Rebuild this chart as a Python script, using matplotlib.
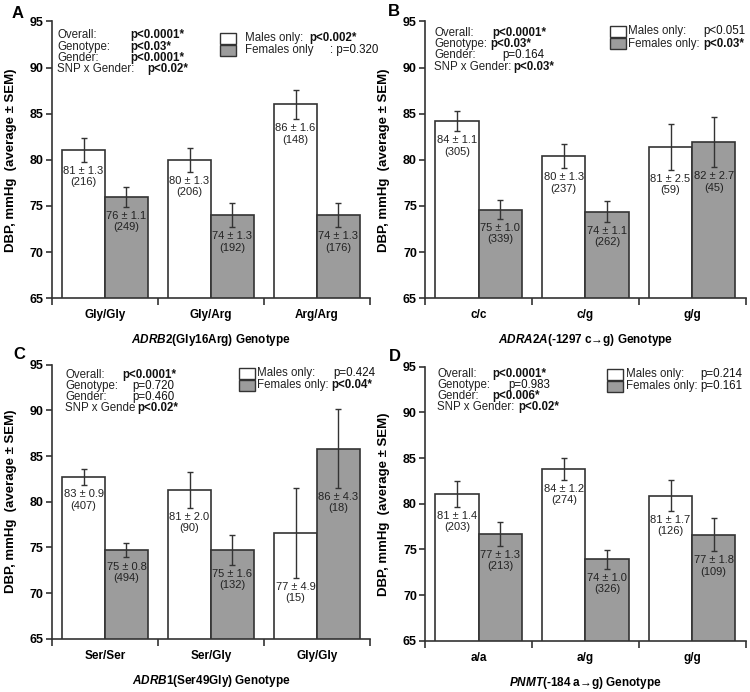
import numpy as np
import matplotlib
matplotlib.use("Agg")
import matplotlib.pyplot as plt
from matplotlib.patches import Rectangle

plt.rcParams['font.family'] = ['Liberation Sans', 'DejaVu Sans']
plt.rcParams['mathtext.fontset'] = 'custom'
plt.rcParams['mathtext.it'] = 'Liberation Sans:bold:italic'
plt.rcParams['mathtext.rm'] = 'Liberation Sans:bold'

# ---- data ----
genotypes_A = ["Gly/Gly", "Gly/Arg", "Arg/Arg"]
male_A = [81.1, 80.0, 86.0]
male_sem_A = [1.3, 1.3, 1.6]
male_n_A = [216, 206, 148]
female_A = [76.0, 74.0, 74.0]
female_sem_A = [1.1, 1.3, 1.3]
female_n_A = [249, 192, 176]

genotypes_B = ["c/c", "c/g", "g/g"]
male_B = [84.2, 80.4, 81.4]
male_sem_B = [1.1, 1.3, 2.5]
male_n_B = [305, 237, 59]
female_B = [74.6, 74.4, 81.9]
female_sem_B = [1.0, 1.1, 2.7]
female_n_B = [339, 262, 45]

genotypes_C = ["Ser/Ser", "Ser/Gly", "Gly/Gly"]
male_C = [82.7, 81.3, 76.6]
male_sem_C = [0.9, 2.0, 4.9]
male_n_C = [407, 90, 15]
female_C = [74.7, 74.7, 85.8]
female_sem_C = [0.8, 1.6, 4.3]
female_n_C = [494, 132, 18]

genotypes_D = ["a/a", "a/g", "g/g"]
male_D = [81.1, 83.8, 80.9]
male_sem_D = [1.4, 1.2, 1.7]
male_n_D = [203, 274, 126]
female_D = [76.7, 73.9, 76.6]
female_sem_D = [1.3, 1.0, 1.8]
female_n_D = [213, 326, 109]

genes = ["ADRB2", "ADRA2A", "ADRB1", "PNMT"]
variants = ["(Gly16Arg) Genotype", "(-1297 c\u2192g) Genotype",
            "(Ser49Gly) Genotype", "(-184 a\u2192g) Genotype"]

# stats text: (label, value, bold)
stats_A = [("Overall:", "p<0.0001*", True), ("Genotype:", "p<0.03*", True),
           ("Gender:", "p<0.0001*", True), ("SNP x Gender:", "p<0.02*", True)]
stats_B = [("Overall:", "p<0.0001*", True), ("Genotype:", "p<0.03*", True),
           ("Gender:", "p=0.164", False), ("SNP x Gender:", "p<0.03*", True)]
stats_C = [("Overall:", "p<0.0001*", True), ("Genotype:", "p=0.720", False),
           ("Gender:", "p=0.460", False), ("SNP x Gende", "p<0.02*", True)]
stats_D = [("Overall:", "p<0.0001*", True), ("Genotype:", "p=0.983", False),
           ("Gender:", "p<0.006*", True), ("SNP x Gender:", "p<0.02*", True)]
legend_A = [("Males only:", "p<0.002*", True), ("Females only", ": p=0.320", False)]
legend_B = [("Males only:", "p<0.051", False), ("Females only:", "p<0.03*", True)]
legend_C = [("Males only:", "p=0.424", False), ("Females only:", "p<0.04*", True)]
legend_D = [("Males only:", "p=0.214", False), ("Females only:", "p=0.161", False)]

EDGE = "#333333"
GREY = "#9c9c9c"
TXT = "#222222"
FS = 8.3

fig = plt.figure(figsize=(7.5, 6.92), dpi=100)


def panel(rect, letter, letter_pos, genos, m, ms, mn, f, fs, fn, gene, variant,
          stats, stat_x, stat_vx, stat_y0, leg, leg_x, leg_tx, leg_vx, leg_y0):
    ax = fig.add_axes(rect)
    x = np.arange(len(genos))
    w = 0.405
    ax.bar(x - w / 2, m, w, color="white", edgecolor=EDGE, linewidth=1.2, zorder=2)
    ax.bar(x + w / 2, f, w, color=GREY, edgecolor=EDGE, linewidth=1.2, zorder=2)
    ax.errorbar(x - w / 2, m, yerr=ms, fmt="none", ecolor=EDGE, elinewidth=1, capsize=2.5, zorder=3)
    ax.errorbar(x + w / 2, f, yerr=fs, fmt="none", ecolor=EDGE, elinewidth=1, capsize=2.5, zorder=3)
    for xi, v, s, n in zip(x - w / 2, m, ms, mn):
        ax.text(xi, v - s - 0.45, "%.0f \u00b1 %.1f\n(%d)" % (v, s, n), ha="center", va="top",
                fontsize=8, color=TXT, linespacing=1.15, zorder=4)
    for xi, v, s, n in zip(x + w / 2, f, fs, fn):
        ax.text(xi, v - s - 0.45, "%.0f \u00b1 %.1f\n(%d)" % (v, s, n), ha="center", va="top",
                fontsize=8, color=TXT, linespacing=1.15, zorder=4)

    ax.set_ylim(65, 95)
    ax.set_xlim(-0.5, len(genos) - 0.5)
    ax.set_yticks([65, 70, 75, 80, 85, 90, 95])
    ax.set_xticks(np.arange(len(genos) + 1) - 0.5)
    ax.set_xticklabels([])
    ax.set_xticks(x, minor=True)
    ax.set_xticklabels(genos, minor=True, fontweight="bold", fontsize=8.5)
    ax.tick_params(axis="x", which="minor", length=0, pad=8)
    ax.tick_params(axis="x", which="major", length=5, width=1.2, color=EDGE)
    ax.tick_params(axis="y", length=4, width=1.2, color=EDGE, pad=2)
    for lab in ax.get_yticklabels():
        lab.set_fontweight("bold")
        lab.set_fontsize(9)
    for sp in ["top", "right"]:
        ax.spines[sp].set_visible(False)
    for sp in ["left", "bottom"]:
        ax.spines[sp].set_linewidth(1.2)
        ax.spines[sp].set_color(EDGE)
    ax.set_ylabel("DBP, mmHg  (average \u00b1 SEM)", fontweight="bold", fontsize=9.5, labelpad=9)
    ax.set_xlabel(r"$\it{%s}$%s" % (gene, variant), fontweight="bold", fontsize=8.5, labelpad=8)

    # stats block
    for i, ((lab, val, bold), vx) in enumerate(zip(stats, stat_vx)):
        yy = stat_y0 - i * 0.041
        ax.text(stat_x, yy, lab, transform=ax.transAxes, fontsize=FS, color=TXT, va="center")
        ax.text(vx, yy, val, transform=ax.transAxes, fontsize=FS, color="#111111", va="center",
                fontweight="bold" if bold else "normal")
    # legend block
    for i, ((lab, val, bold), col) in enumerate(zip(leg, ["white", GREY])):
        yy = leg_y0 - i * 0.044
        ax.add_patch(Rectangle((leg_x, yy - 0.02), 0.05, 0.04, transform=ax.transAxes,
                               facecolor=col, edgecolor=EDGE, linewidth=1, clip_on=False))
        ax.text(leg_tx, yy, lab, transform=ax.transAxes, fontsize=FS, color=TXT, va="center")
        ax.text(leg_vx[i], yy, val, transform=ax.transAxes, fontsize=FS, color="#111111",
                va="center", fontweight="bold" if bold else "normal")
    fig.text(letter_pos[0], letter_pos[1], letter, fontsize=12, fontweight="bold", va="center")
    return ax


panel([0.0693, 0.569, 0.424, 0.400], "A", (0.016, 0.981), genotypes_A,
      male_A, male_sem_A, male_n_A, female_A, female_sem_A, female_n_A,
      genes[0], variants[0], stats_A, 0.016, [0.245, 0.245, 0.245, 0.30], 0.95,
      legend_A, 0.528, 0.607, [0.81, 0.874], 0.94)
panel([0.567, 0.569, 0.427, 0.400], "B", (0.517, 0.983), genotypes_B,
      male_B, male_sem_B, male_n_B, female_B, female_sem_B, female_n_B,
      genes[1], variants[1], stats_B, 0.028, [0.21, 0.203, 0.24, 0.276], 0.96,
      legend_B, 0.578, 0.634, [0.869, 0.869], 0.964)
panel([0.0693, 0.077, 0.424, 0.396], "C", (0.018, 0.487), genotypes_C,
      male_C, male_sem_C, male_n_C, female_C, female_sem_C, female_n_C,
      genes[2], variants[2], stats_C, 0.041, [0.22, 0.252, 0.252, 0.267], 0.964,
      legend_C, 0.588, 0.645, [0.884, 0.878], 0.969)
panel([0.567, 0.074, 0.427, 0.396], "D", (0.519, 0.485), genotypes_D,
      male_D, male_sem_D, male_n_D, female_D, female_sem_D, female_n_D,
      genes[3], variants[3], stats_D, 0.038, [0.21, 0.26, 0.21, 0.29], 0.975,
      legend_D, 0.566, 0.628, [0.86, 0.86], 0.973)

fig.savefig("out.png", dpi=100)
